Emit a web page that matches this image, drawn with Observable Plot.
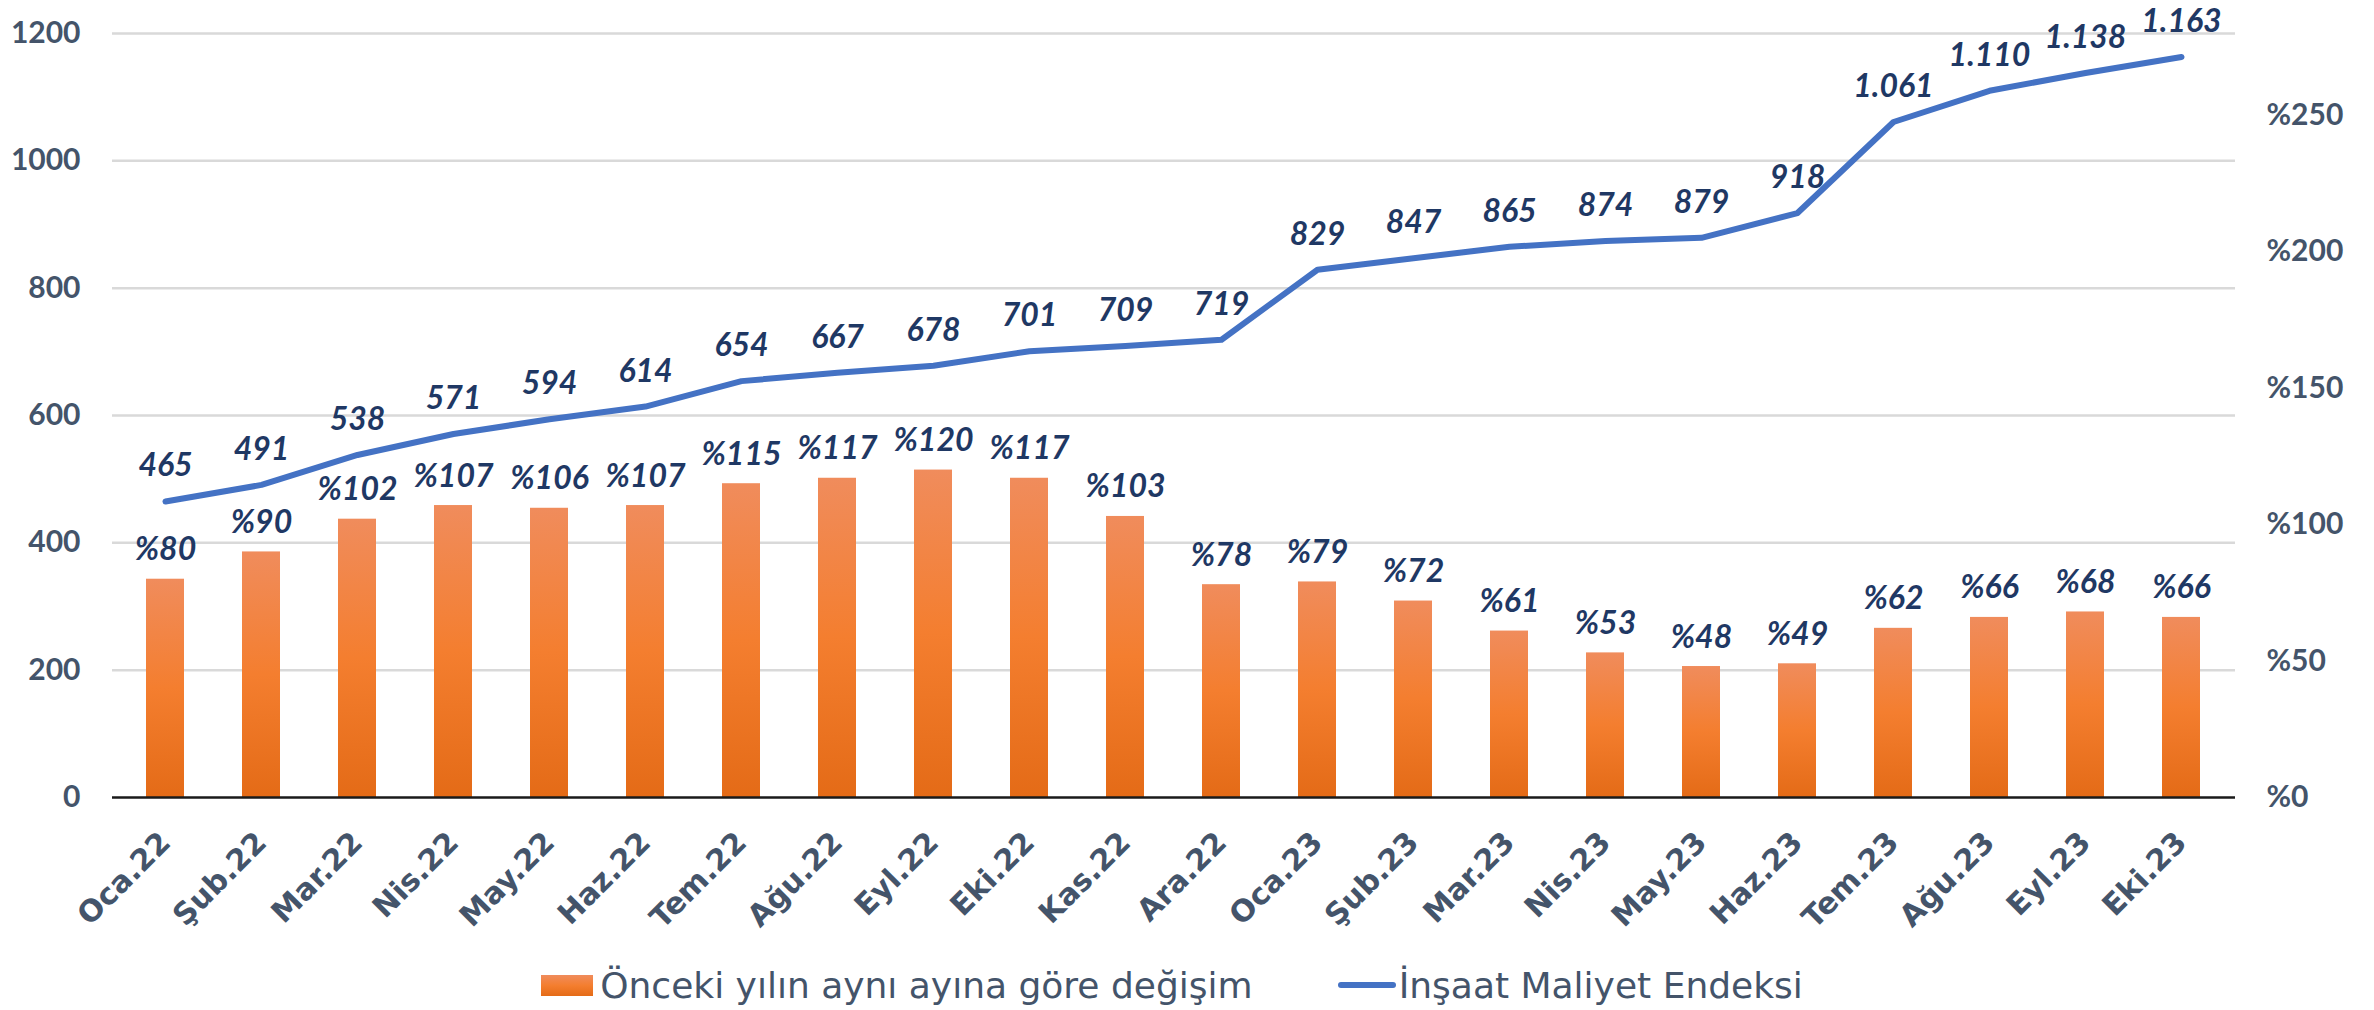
<!DOCTYPE html>
<html>
<head>
<meta charset="utf-8">
<script src="https://cdn.jsdelivr.net/npm/d3@7"></script>
<script src="https://cdn.jsdelivr.net/npm/@observablehq/plot@0.6"></script>
<style>
  body { margin: 0; background: #fff; }
  #chart svg { display: block; }
  .legend {
    width: 2374px; height: 80px; box-sizing: border-box; padding-top: 30px; padding-right: 30px;
    display: flex; justify-content: center; align-items: center; gap: 85px;
    font-family: "DejaVu Sans", sans-serif; font-size: 36px; color: #44546A;
  }
  .item { display: flex; align-items: center; }
  .sw-bar { width: 52px; height: 21px; background: linear-gradient(#F08C5C, #F47E2F 50%, #E46B17); margin-right: 7px; }
  .sw-line { width: 58px; height: 6px; border-radius: 3px; background: #4472C4; margin-right: 3px; }
</style>
</head>
<body>
<div id="chart"></div>
<div class="legend">
  <div class="item"><div class="sw-bar"></div><span>Önceki yılın aynı ayına göre değişim</span></div>
  <div class="item"><div class="sw-line"></div><span>İnşaat Maliyet Endeksi</span></div>
</div>
<script>
const months = ["Oca.22","Şub.22","Mar.22","Nis.22","May.22","Haz.22","Tem.22","Ağu.22","Eyl.22","Eki.22","Kas.22","Ara.22",
                "Oca.23","Şub.23","Mar.23","Nis.23","May.23","Haz.23","Tem.23","Ağu.23","Eyl.23","Eki.23"];
const indexValues = [465,491,538,571,594,614,654,667,678,701,709,719,829,847,865,874,879,918,1061,1110,1138,1163];
const changePct = [80,90,102,107,106,107,115,117,120,117,103,78,79,72,61,53,48,49,62,66,68,66];
const leftTicks = [0,200,400,600,800,1000,1200];
const rightTicks = [0,50,100,150,200,250];
const leftMax = 1200;
const rightMax = 280;

const k = leftMax / rightMax;
const data = months.map((m, i) => ({ month: m, index: indexValues[i], pct: changePct[i] }));
const fmt = v => String(v).replace(/\B(?=(\d{3})+(?!\d))/g, ".");

const numFont = { fontFamily: "Lato, sans-serif", fontWeight: "bold", fontSize: 30 };
const labelFont = { fontFamily: "Lato, sans-serif", fontWeight: "bold", fontStyle: "italic", fontSize: 32, fill: "#1F3864" };

const svg = Plot.plot({
  width: 2374, height: 930,
  marginLeft: 112, marginRight: 139, marginTop: 33, marginBottom: 133,
  x: { domain: months, paddingInner: 0.6, paddingOuter: 0.3, label: null },
  y: { domain: [0, leftMax], label: null },
  style: { background: "white", overflow: "visible" },
  marks: [
    Plot.gridY(leftTicks.filter(t => t > 0), { stroke: "#D9D9D9", strokeOpacity: 1, strokeWidth: 2.5 }),
    Plot.barY(data, { x: "month", y: d => d.pct * k, fill: "url(#barGrad)" }),
    Plot.ruleY([0], { stroke: "#1a1a1a", strokeWidth: 2.5 }),
    Plot.lineY(data, { x: "month", y: "index", stroke: "#4472C4", strokeWidth: 6, strokeLinecap: "round", strokeLinejoin: "round" }),
    Plot.text(data, { x: "month", y: d => d.pct * k, text: d => "%" + d.pct, dy: -19, lineAnchor: "bottom", ...labelFont }),
    Plot.text(data, { x: "month", y: "index", text: d => fmt(d.index), dy: -25, lineAnchor: "bottom", ...labelFont }),
    Plot.axisY({ anchor: "left", ticks: leftTicks, tickFormat: d => String(d), tickSize: 0, tickPadding: 32, color: "#44546A", label: null, ...numFont }),
    Plot.axisY({ anchor: "right", ticks: rightTicks.map(t => t * k), tickFormat: d => "%" + Math.round(d / k),
                 tickSize: 0, tickPadding: 31, color: "#44546A", label: null, ...numFont }),
    Plot.axisX({ tickRotate: -45, tickSize: 0, tickPadding: 40, color: "#44546A", label: null,
                 fontFamily: "'DejaVu Sans', sans-serif", fontWeight: "bold", fontSize: 30 })
  ]
});

const ns = "http://www.w3.org/2000/svg";
const defs = document.createElementNS(ns, "defs");
const grad = document.createElementNS(ns, "linearGradient");
grad.setAttribute("id", "barGrad");
grad.setAttribute("x1", "0"); grad.setAttribute("y1", "0");
grad.setAttribute("x2", "0"); grad.setAttribute("y2", "1");
[["0", "#F08C5C"], ["0.5", "#F47E2F"], ["1", "#E46B17"]].forEach(([o, c]) => {
  const s = document.createElementNS(ns, "stop");
  s.setAttribute("offset", o); s.setAttribute("stop-color", c);
  grad.appendChild(s);
});
defs.appendChild(grad);
svg.insertBefore(defs, svg.firstChild);
document.getElementById("chart").appendChild(svg);
</script>
</body>
</html>
